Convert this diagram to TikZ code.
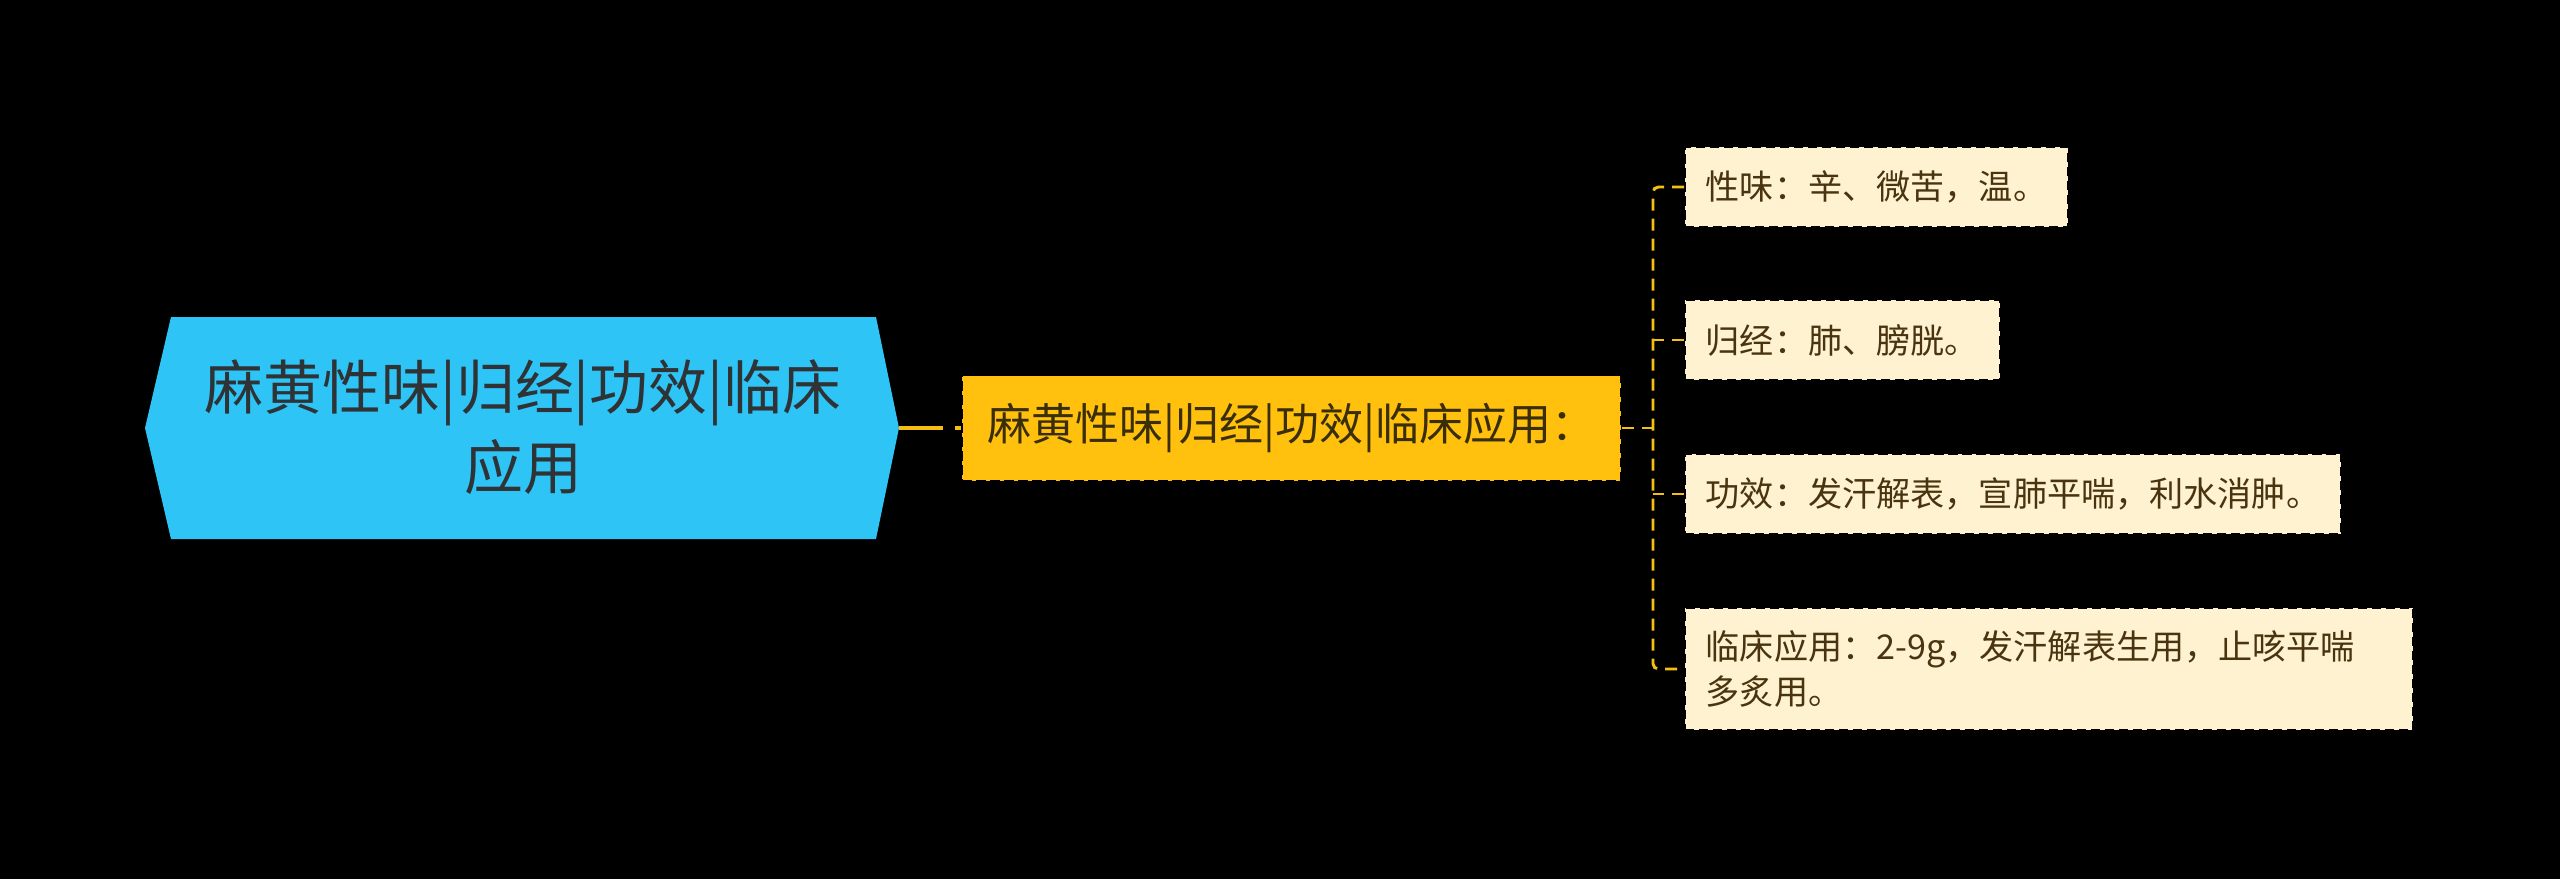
\documentclass[tikz,border=0pt]{standalone}
\usepackage{fontspec}
\setmainfont{Noto Sans CJK SC}
\definecolor{bgc}{HTML}{000000}
\definecolor{hexc}{HTML}{2EC4F5}
\definecolor{midc}{HTML}{FFC10E}
\definecolor{leafc}{HTML}{FEF2D0}
\definecolor{linec}{HTML}{F5BE12}
\definecolor{roottxt}{HTML}{2F3336}
\definecolor{midtxt}{HTML}{3A2E08}
\definecolor{leaftxt}{HTML}{4A3410}
\tikzset{
  roottext/.style={align=center, text=roottxt, inner sep=0pt,
    font=\fontsize{44.2pt}{60pt}\selectfont},
  midbox/.style={fill=midc, draw=black, dash pattern=on 7pt off 3.5pt, line width=1.2pt,
    minimum width=494pt, minimum height=78.75pt, inner sep=0pt,
    text=midtxt, font=\fontsize{33pt}{40pt}\selectfont},
  leafbox/.style={fill=leafc, draw=black, dash pattern=on 7pt off 3.5pt, line width=1.2pt,
    anchor=west, inner xsep=15.75pt, inner ysep=17pt, minimum height=60pt,
    text=leaftxt, align=left, font=\fontsize{25.6pt}{33.75pt}\selectfont},
  mainline/.style={draw=linec, line width=2.6pt, dash pattern=on 33pt off 9pt},
  brline/.style={draw=linec, line width=2.2pt, dash pattern=on 9pt off 6pt}
}
\begin{document}
\begin{tikzpicture}[x=0.75pt,y=-0.75pt]
\useasboundingbox (0,0) rectangle (2560,879);
\fill[bgc] (0,0) rectangle (2560,879);
% root hexagon
\fill[hexc] (145,428) -- (171,317) -- (876,317) -- (899,428) -- (876,539) -- (171,539) -- cycle;
\coordinate (rootR) at (899,428);
\node[roottext] (root) at (523,427) {麻黄性味|归经|功效|临床\\应用};
% middle node
\node[midbox] (mid) at (1291.5,428) {麻黄性味|归经|功效|临床应用：};
% leaves
\node[leafbox] (c1) at (1684,187) {性味：辛、微苦，温。};
\node[leafbox] (c2) at (1684,340) {归经：肺、膀胱。};
\node[leafbox] (c3) at (1684,494) {功效：发汗解表，宣肺平喘，利水消肿。};
\node[leafbox, text width=514.5pt] (c4) at (1684,669) {临床应用：2-9g，发汗解表生用，止咳平喘\\多炙用。};
% connectors
\draw[mainline] (rootR) -- (mid.west);
\coordinate (j) at (1653,428);
\draw[brline] (mid.east) -- (j);
\draw[brline, rounded corners=4pt] (c1.west) -| (j) |- (c4.west);
\draw[brline] (c2.west) -- (c2.west -| j);
\draw[brline] (c3.west) -- (c3.west -| j);
\end{tikzpicture}
\end{document}
